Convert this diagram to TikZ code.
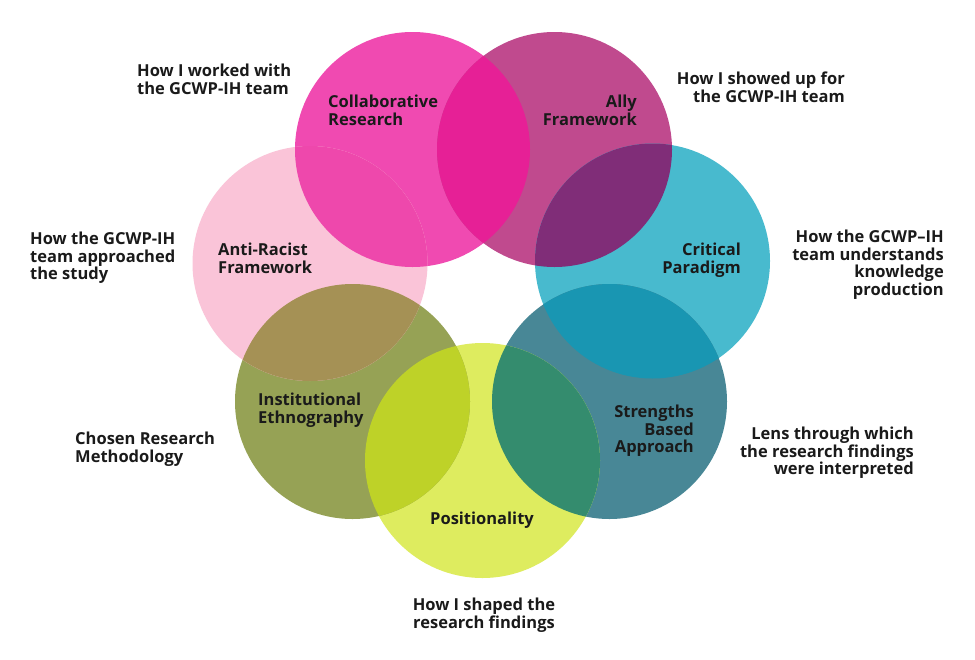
\documentclass[tikz,border=0pt]{standalone}
\usepackage{fontspec}
\setmainfont{Open Sans}
\definecolor{txt}{RGB}{26,26,26}
\definecolor{cCR}{RGB}{240,74,177}
\definecolor{cAF}{RGB}{192,74,142}
\definecolor{cCP}{RGB}{72,186,206}
\definecolor{cSB}{RGB}{72,135,150}
\definecolor{cPO}{RGB}{222,236,95}
\definecolor{cIE}{RGB}{150,162,85}
\definecolor{cAR}{RGB}{250,196,216}
\definecolor{oCRAF}{RGB}{230,32,150}
\definecolor{oAFCP}{RGB}{128,45,120}
\definecolor{oCPSB}{RGB}{25,150,178}
\definecolor{oSBPO}{RGB}{52,140,110}
\definecolor{oPOIE}{RGB}{190,210,40}
\definecolor{oIEAR}{RGB}{165,145,85}
\definecolor{oARCR}{RGB}{238,72,172}
\begin{document}
\begin{tikzpicture}[x=1pt,y=-1pt,
  disc/.style={circle, inner sep=0pt, minimum size=235pt, fill=#1},
  lbl/.style={inner sep=0pt, text=txt, font=\bfseries\fontsize{16.5}{17.5}\selectfont}]
\useasboundingbox (0,0) rectangle (975,659);
\fill[white] (0,0) rectangle (975,659);
% circles
\node[disc=cCR] (cr) at (412.5,149.5) {};
\node[disc=cAF] (af) at (554.5,149.5) {};
\node[disc=cCP] (cp) at (652.5,261) {};
\node[disc=cSB] (sb) at (609.5,401.5) {};
\node[disc=cPO] (po) at (482.5,460.5) {};
\node[disc=cIE] (ie) at (352.5,401.5) {};
\node[disc=cAR] (ar) at (310,263.5) {};
% overlaps
\begin{scope}\clip (cr) circle[radius=117.5pt]; \fill[oCRAF] (af) circle[radius=117.5pt];\end{scope}
\begin{scope}\clip (af) circle[radius=117.5pt]; \fill[oAFCP] (cp) circle[radius=117.5pt];\end{scope}
\begin{scope}\clip (cp) circle[radius=117.5pt]; \fill[oCPSB] (sb) circle[radius=117.5pt];\end{scope}
\begin{scope}\clip (sb) circle[radius=117.5pt]; \fill[oSBPO] (po) circle[radius=117.5pt];\end{scope}
\begin{scope}\clip (po) circle[radius=117.5pt]; \fill[oPOIE] (ie) circle[radius=117.5pt];\end{scope}
\begin{scope}\clip (ie) circle[radius=117.5pt]; \fill[oIEAR] (ar) circle[radius=117.5pt];\end{scope}
\begin{scope}\clip (ar) circle[radius=117.5pt]; \fill[oARCR] (cr) circle[radius=117.5pt];\end{scope}
% circle labels
\node[lbl, align=left, anchor=north west] (lcr) at (328,95) {Collaborative\\Research};
\node[lbl, align=right, anchor=north east] (laf) at (637,95) {Ally\\Framework};
\node[lbl, align=right, anchor=north east] (lcp) at (741,243) {Critical\\Paradigm};
\node[lbl, align=right, anchor=north east] (lsb) at (694,405) {Strengths\\Based\\Approach};
\node[lbl, align=center, anchor=north] (lpo) at (482,512) {Positionality};
\node[lbl, align=left, anchor=north west] (lie) at (258,393) {Institutional\\Ethnography};
\node[lbl, align=left, anchor=north west] (lar) at (218,243) {Anti-Racist\\Framework};
% outer labels
\node[lbl, align=left, anchor=north west] (t1) at (137,64) {How I worked with\\the GCWP-IH team};
\node[lbl, align=right, anchor=north east] (t2) at (845,72) {How I showed up for\\the GCWP-IH team};
\node[lbl, align=left, anchor=north west] (t3) at (30,232) {How the GCWP-IH\\team approached\\the study};
\node[lbl, align=right, anchor=north east] (t4) at (944,230) {How the GCWP–IH\\team understands\\knowledge\\production};
\node[lbl, align=left, anchor=north west] (t5) at (75,432) {Chosen Research\\Methodology};
\node[lbl, align=center, anchor=north] (t6) at (484,598) {How I shaped the\\research findings};
\node[lbl, align=right, anchor=north east] (t7) at (914,427) {Lens through which\\the research findings\\were interpreted};
\end{tikzpicture}
\end{document}
